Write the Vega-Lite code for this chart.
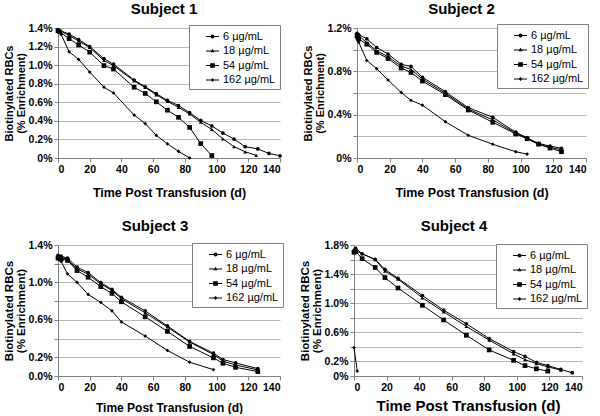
{
"$schema": "https://vega.github.io/schema/vega-lite/v6.json",
"padding": {"left": 3, "top": 2, "right": 3, "bottom": 0},
"background": "white",
"config": {
  "font": "Liberation Sans",
  "view": {"stroke": null},
  "axis": {"labelFont": "Liberation Sans", "labelFontWeight": "bold", "labelFontSize": 10.5, "labelColor": "black", "titleFont": "Liberation Sans", "titleFontWeight": "bold", "titleColor": "black", "domainColor": "#808080", "tickColor": "#808080", "gridColor": "#b8b8b8", "tickSize": 4, "labelPadding": 2, "labelOverlap": false},
  "legend": {"title": null, "orient": "none", "padding": 4, "strokeColor": "#808080", "fillColor": "white", "symbolSize": 170, "symbolFillColor": "black", "symbolStrokeColor": "black", "symbolStrokeWidth": 1, "symbolOpacity": 1, "labelFont": "Liberation Sans", "labelFontSize": 11, "labelColor": "black", "symbolOffset": 12, "labelOffset": 3, "rowPadding": 1.5},
  "title": {"font": "Liberation Sans", "fontSize": 15, "fontWeight": "bold", "color": "black", "anchor": "middle", "frame": "group", "offset": 6}
},
"data": {"values": [
{"subject":1,"conc":"6 µg/mL","day":0,"pct":1.38},{"subject":1,"conc":"6 µg/mL","day":7,"pct":1.335},{"subject":1,"conc":"6 µg/mL","day":13,"pct":1.275},{"subject":1,"conc":"6 µg/mL","day":20,"pct":1.2},{"subject":1,"conc":"6 µg/mL","day":29,"pct":1.07},{"subject":1,"conc":"6 µg/mL","day":35,"pct":1.01},{"subject":1,"conc":"6 µg/mL","day":48,"pct":0.84},{"subject":1,"conc":"6 µg/mL","day":55,"pct":0.767},{"subject":1,"conc":"6 µg/mL","day":62,"pct":0.693},{"subject":1,"conc":"6 µg/mL","day":69,"pct":0.62},{"subject":1,"conc":"6 µg/mL","day":76,"pct":0.565},{"subject":1,"conc":"6 µg/mL","day":83,"pct":0.488},{"subject":1,"conc":"6 µg/mL","day":90,"pct":0.404},{"subject":1,"conc":"6 µg/mL","day":97,"pct":0.345},{"subject":1,"conc":"6 µg/mL","day":104,"pct":0.268},{"subject":1,"conc":"6 µg/mL","day":111,"pct":0.204},{"subject":1,"conc":"6 µg/mL","day":118,"pct":0.122},{"subject":1,"conc":"6 µg/mL","day":126,"pct":0.098},{"subject":1,"conc":"6 µg/mL","day":133,"pct":0.049},{"subject":1,"conc":"6 µg/mL","day":140,"pct":0.024},
{"subject":1,"conc":"18 µg/mL","day":0,"pct":1.38},{"subject":1,"conc":"18 µg/mL","day":7,"pct":1.32},{"subject":1,"conc":"18 µg/mL","day":13,"pct":1.26},{"subject":1,"conc":"18 µg/mL","day":20,"pct":1.19},{"subject":1,"conc":"18 µg/mL","day":29,"pct":1.05},{"subject":1,"conc":"18 µg/mL","day":35,"pct":0.995},{"subject":1,"conc":"18 µg/mL","day":48,"pct":0.83},{"subject":1,"conc":"18 µg/mL","day":55,"pct":0.76},{"subject":1,"conc":"18 µg/mL","day":62,"pct":0.68},{"subject":1,"conc":"18 µg/mL","day":69,"pct":0.61},{"subject":1,"conc":"18 µg/mL","day":76,"pct":0.545},{"subject":1,"conc":"18 µg/mL","day":83,"pct":0.475},{"subject":1,"conc":"18 µg/mL","day":90,"pct":0.385},{"subject":1,"conc":"18 µg/mL","day":97,"pct":0.307},{"subject":1,"conc":"18 µg/mL","day":104,"pct":0.205},{"subject":1,"conc":"18 µg/mL","day":111,"pct":0.122},{"subject":1,"conc":"18 µg/mL","day":118,"pct":0.067},{"subject":1,"conc":"18 µg/mL","day":125,"pct":0.029},
{"subject":1,"conc":"54 µg/mL","day":0,"pct":1.37},{"subject":1,"conc":"54 µg/mL","day":1,"pct":1.36},{"subject":1,"conc":"54 µg/mL","day":7,"pct":1.285},{"subject":1,"conc":"54 µg/mL","day":13,"pct":1.217},{"subject":1,"conc":"54 µg/mL","day":20,"pct":1.14},{"subject":1,"conc":"54 µg/mL","day":29,"pct":0.995},{"subject":1,"conc":"54 µg/mL","day":35,"pct":0.958},{"subject":1,"conc":"54 µg/mL","day":48,"pct":0.762},{"subject":1,"conc":"54 µg/mL","day":55,"pct":0.695},{"subject":1,"conc":"54 µg/mL","day":62,"pct":0.605},{"subject":1,"conc":"54 µg/mL","day":69,"pct":0.515},{"subject":1,"conc":"54 µg/mL","day":76,"pct":0.438},{"subject":1,"conc":"54 µg/mL","day":83,"pct":0.329},{"subject":1,"conc":"54 µg/mL","day":90,"pct":0.155},{"subject":1,"conc":"54 µg/mL","day":97,"pct":0.026},
{"subject":1,"conc":"162 µg/mL","day":0,"pct":1.37},{"subject":1,"conc":"162 µg/mL","day":2,"pct":1.33},{"subject":1,"conc":"162 µg/mL","day":7,"pct":1.144},{"subject":1,"conc":"162 µg/mL","day":13,"pct":1.062},{"subject":1,"conc":"162 µg/mL","day":20,"pct":0.926},{"subject":1,"conc":"162 µg/mL","day":29,"pct":0.762},{"subject":1,"conc":"162 µg/mL","day":35,"pct":0.7},{"subject":1,"conc":"162 µg/mL","day":48,"pct":0.463},{"subject":1,"conc":"162 µg/mL","day":55,"pct":0.371},{"subject":1,"conc":"162 µg/mL","day":62,"pct":0.244},{"subject":1,"conc":"162 µg/mL","day":69,"pct":0.152},{"subject":1,"conc":"162 µg/mL","day":76,"pct":0.072},{"subject":1,"conc":"162 µg/mL","day":83,"pct":0.0},
{"subject":2,"conc":"6 µg/mL","day":0,"pct":1.15},{"subject":2,"conc":"6 µg/mL","day":1,"pct":1.14},{"subject":2,"conc":"6 µg/mL","day":6,"pct":1.1},{"subject":2,"conc":"6 µg/mL","day":12,"pct":1.02},{"subject":2,"conc":"6 µg/mL","day":19,"pct":0.96},{"subject":2,"conc":"6 µg/mL","day":27,"pct":0.865},{"subject":2,"conc":"6 µg/mL","day":33,"pct":0.845},{"subject":2,"conc":"6 µg/mL","day":40,"pct":0.745},{"subject":2,"conc":"6 µg/mL","day":54,"pct":0.612},{"subject":2,"conc":"6 µg/mL","day":68,"pct":0.465},{"subject":2,"conc":"6 µg/mL","day":83,"pct":0.376},{"subject":2,"conc":"6 µg/mL","day":97,"pct":0.238},{"subject":2,"conc":"6 µg/mL","day":104,"pct":0.186},{"subject":2,"conc":"6 µg/mL","day":111,"pct":0.135},{"subject":2,"conc":"6 µg/mL","day":118,"pct":0.11},{"subject":2,"conc":"6 µg/mL","day":125,"pct":0.09},
{"subject":2,"conc":"18 µg/mL","day":0,"pct":1.12},{"subject":2,"conc":"18 µg/mL","day":1,"pct":1.13},{"subject":2,"conc":"18 µg/mL","day":6,"pct":1.065},{"subject":2,"conc":"18 µg/mL","day":12,"pct":0.99},{"subject":2,"conc":"18 µg/mL","day":19,"pct":0.935},{"subject":2,"conc":"18 µg/mL","day":27,"pct":0.848},{"subject":2,"conc":"18 µg/mL","day":33,"pct":0.818},{"subject":2,"conc":"18 µg/mL","day":40,"pct":0.728},{"subject":2,"conc":"18 µg/mL","day":54,"pct":0.598},{"subject":2,"conc":"18 µg/mL","day":68,"pct":0.452},{"subject":2,"conc":"18 µg/mL","day":83,"pct":0.352},{"subject":2,"conc":"18 µg/mL","day":97,"pct":0.23},{"subject":2,"conc":"18 µg/mL","day":104,"pct":0.18},{"subject":2,"conc":"18 µg/mL","day":111,"pct":0.125},{"subject":2,"conc":"18 µg/mL","day":118,"pct":0.1},{"subject":2,"conc":"18 µg/mL","day":125,"pct":0.075},
{"subject":2,"conc":"54 µg/mL","day":0,"pct":1.13},{"subject":2,"conc":"54 µg/mL","day":1,"pct":1.1},{"subject":2,"conc":"54 µg/mL","day":6,"pct":1.05},{"subject":2,"conc":"54 µg/mL","day":12,"pct":0.975},{"subject":2,"conc":"54 µg/mL","day":19,"pct":0.918},{"subject":2,"conc":"54 µg/mL","day":27,"pct":0.83},{"subject":2,"conc":"54 µg/mL","day":33,"pct":0.79},{"subject":2,"conc":"54 µg/mL","day":40,"pct":0.71},{"subject":2,"conc":"54 µg/mL","day":54,"pct":0.585},{"subject":2,"conc":"54 µg/mL","day":68,"pct":0.443},{"subject":2,"conc":"54 µg/mL","day":83,"pct":0.33},{"subject":2,"conc":"54 µg/mL","day":97,"pct":0.222},{"subject":2,"conc":"54 µg/mL","day":104,"pct":0.178},{"subject":2,"conc":"54 µg/mL","day":111,"pct":0.128},{"subject":2,"conc":"54 µg/mL","day":118,"pct":0.092},{"subject":2,"conc":"54 µg/mL","day":125,"pct":0.058},
{"subject":2,"conc":"162 µg/mL","day":0,"pct":1.1},{"subject":2,"conc":"162 µg/mL","day":1,"pct":1.07},{"subject":2,"conc":"162 µg/mL","day":6,"pct":0.9},{"subject":2,"conc":"162 µg/mL","day":12,"pct":0.825},{"subject":2,"conc":"162 µg/mL","day":19,"pct":0.72},{"subject":2,"conc":"162 µg/mL","day":27,"pct":0.605},{"subject":2,"conc":"162 µg/mL","day":33,"pct":0.532},{"subject":2,"conc":"162 µg/mL","day":40,"pct":0.488},{"subject":2,"conc":"162 µg/mL","day":54,"pct":0.335},{"subject":2,"conc":"162 µg/mL","day":68,"pct":0.21},{"subject":2,"conc":"162 µg/mL","day":83,"pct":0.127},{"subject":2,"conc":"162 µg/mL","day":97,"pct":0.058},{"subject":2,"conc":"162 µg/mL","day":104,"pct":0.036},
{"subject":3,"conc":"6 µg/mL","day":0,"pct":1.29},{"subject":3,"conc":"6 µg/mL","day":2,"pct":1.28},{"subject":3,"conc":"6 µg/mL","day":6,"pct":1.26},{"subject":3,"conc":"6 µg/mL","day":12,"pct":1.163},{"subject":3,"conc":"6 µg/mL","day":19,"pct":1.106},{"subject":3,"conc":"6 µg/mL","day":27,"pct":0.998},{"subject":3,"conc":"6 µg/mL","day":34,"pct":0.926},{"subject":3,"conc":"6 µg/mL","day":40,"pct":0.84},{"subject":3,"conc":"6 µg/mL","day":55,"pct":0.696},{"subject":3,"conc":"6 µg/mL","day":69,"pct":0.535},{"subject":3,"conc":"6 µg/mL","day":83,"pct":0.37},{"subject":3,"conc":"6 µg/mL","day":98,"pct":0.244},{"subject":3,"conc":"6 µg/mL","day":104,"pct":0.176},{"subject":3,"conc":"6 µg/mL","day":112,"pct":0.14},{"subject":3,"conc":"6 µg/mL","day":126,"pct":0.079},
{"subject":3,"conc":"18 µg/mL","day":0,"pct":1.27},{"subject":3,"conc":"18 µg/mL","day":2,"pct":1.27},{"subject":3,"conc":"18 µg/mL","day":6,"pct":1.242},{"subject":3,"conc":"18 µg/mL","day":12,"pct":1.145},{"subject":3,"conc":"18 µg/mL","day":19,"pct":1.088},{"subject":3,"conc":"18 µg/mL","day":27,"pct":0.984},{"subject":3,"conc":"18 µg/mL","day":34,"pct":0.915},{"subject":3,"conc":"18 µg/mL","day":40,"pct":0.826},{"subject":3,"conc":"18 µg/mL","day":55,"pct":0.675},{"subject":3,"conc":"18 µg/mL","day":69,"pct":0.524},{"subject":3,"conc":"18 µg/mL","day":83,"pct":0.363},{"subject":3,"conc":"18 µg/mL","day":98,"pct":0.23},{"subject":3,"conc":"18 µg/mL","day":104,"pct":0.158},{"subject":3,"conc":"18 µg/mL","day":112,"pct":0.118},{"subject":3,"conc":"18 µg/mL","day":126,"pct":0.065},
{"subject":3,"conc":"54 µg/mL","day":0,"pct":1.26},{"subject":3,"conc":"54 µg/mL","day":2,"pct":1.25},{"subject":3,"conc":"54 µg/mL","day":6,"pct":1.235},{"subject":3,"conc":"54 µg/mL","day":12,"pct":1.127},{"subject":3,"conc":"54 µg/mL","day":19,"pct":1.055},{"subject":3,"conc":"54 µg/mL","day":27,"pct":0.955},{"subject":3,"conc":"54 µg/mL","day":34,"pct":0.883},{"subject":3,"conc":"54 µg/mL","day":40,"pct":0.793},{"subject":3,"conc":"54 µg/mL","day":55,"pct":0.632},{"subject":3,"conc":"54 µg/mL","day":69,"pct":0.477},{"subject":3,"conc":"54 µg/mL","day":83,"pct":0.316},{"subject":3,"conc":"54 µg/mL","day":98,"pct":0.194},{"subject":3,"conc":"54 µg/mL","day":104,"pct":0.136},{"subject":3,"conc":"54 µg/mL","day":112,"pct":0.093},{"subject":3,"conc":"54 µg/mL","day":126,"pct":0.047},
{"subject":3,"conc":"162 µg/mL","day":0,"pct":1.25},{"subject":3,"conc":"162 µg/mL","day":2,"pct":1.224},{"subject":3,"conc":"162 µg/mL","day":6,"pct":1.091},{"subject":3,"conc":"162 µg/mL","day":12,"pct":1.001},{"subject":3,"conc":"162 µg/mL","day":19,"pct":0.872},{"subject":3,"conc":"162 µg/mL","day":27,"pct":0.786},{"subject":3,"conc":"162 µg/mL","day":34,"pct":0.696},{"subject":3,"conc":"162 µg/mL","day":40,"pct":0.578},{"subject":3,"conc":"162 µg/mL","day":55,"pct":0.427},{"subject":3,"conc":"162 µg/mL","day":69,"pct":0.273},{"subject":3,"conc":"162 µg/mL","day":83,"pct":0.147},{"subject":3,"conc":"162 µg/mL","day":98,"pct":0.068},
{"subject":4,"conc":"6 µg/mL","day":0,"pct":1.72},{"subject":4,"conc":"6 µg/mL","day":1,"pct":1.755},{"subject":4,"conc":"6 µg/mL","day":5,"pct":1.679},{"subject":4,"conc":"6 µg/mL","day":13,"pct":1.603},{"subject":4,"conc":"6 µg/mL","day":19,"pct":1.464},{"subject":4,"conc":"6 µg/mL","day":27,"pct":1.343},{"subject":4,"conc":"6 µg/mL","day":42,"pct":1.106},{"subject":4,"conc":"6 µg/mL","day":55,"pct":0.905},{"subject":4,"conc":"6 µg/mL","day":69,"pct":0.717},{"subject":4,"conc":"6 µg/mL","day":83,"pct":0.515},{"subject":4,"conc":"6 µg/mL","day":98,"pct":0.336},{"subject":4,"conc":"6 µg/mL","day":105,"pct":0.269},{"subject":4,"conc":"6 µg/mL","day":112,"pct":0.188},{"subject":4,"conc":"6 µg/mL","day":119,"pct":0.143},{"subject":4,"conc":"6 µg/mL","day":127,"pct":0.09},{"subject":4,"conc":"6 µg/mL","day":134,"pct":0.045},
{"subject":4,"conc":"18 µg/mL","day":0,"pct":1.74},{"subject":4,"conc":"18 µg/mL","day":1,"pct":1.72},{"subject":4,"conc":"18 µg/mL","day":5,"pct":1.68},{"subject":4,"conc":"18 µg/mL","day":13,"pct":1.6},{"subject":4,"conc":"18 µg/mL","day":19,"pct":1.442},{"subject":4,"conc":"18 µg/mL","day":27,"pct":1.33},{"subject":4,"conc":"18 µg/mL","day":42,"pct":1.075},{"subject":4,"conc":"18 µg/mL","day":55,"pct":0.882},{"subject":4,"conc":"18 µg/mL","day":69,"pct":0.681},{"subject":4,"conc":"18 µg/mL","day":83,"pct":0.493},{"subject":4,"conc":"18 µg/mL","day":98,"pct":0.305},{"subject":4,"conc":"18 µg/mL","day":105,"pct":0.224},{"subject":4,"conc":"18 µg/mL","day":112,"pct":0.17},{"subject":4,"conc":"18 µg/mL","day":119,"pct":0.125},{"subject":4,"conc":"18 µg/mL","day":127,"pct":0.081},
{"subject":4,"conc":"54 µg/mL","day":0,"pct":1.7},{"subject":4,"conc":"54 µg/mL","day":1,"pct":1.711},{"subject":4,"conc":"54 µg/mL","day":5,"pct":1.612},{"subject":4,"conc":"54 µg/mL","day":13,"pct":1.491},{"subject":4,"conc":"54 µg/mL","day":19,"pct":1.352},{"subject":4,"conc":"54 µg/mL","day":27,"pct":1.209},{"subject":4,"conc":"54 µg/mL","day":42,"pct":0.972},{"subject":4,"conc":"54 µg/mL","day":55,"pct":0.77},{"subject":4,"conc":"54 µg/mL","day":69,"pct":0.56},{"subject":4,"conc":"54 µg/mL","day":83,"pct":0.358},{"subject":4,"conc":"54 µg/mL","day":98,"pct":0.215},{"subject":4,"conc":"54 µg/mL","day":105,"pct":0.143},{"subject":4,"conc":"54 µg/mL","day":112,"pct":0.099},{"subject":4,"conc":"54 µg/mL","day":119,"pct":0.067},
{"subject":4,"conc":"162 µg/mL","day":0,"pct":0.39},{"subject":4,"conc":"162 µg/mL","day":2,"pct":0.067}
]},
"resolve": {"scale": {"shape": "independent", "size": "independent"}, "legend": {"shape": "independent"}},
"vconcat": [
 {"resolve": {"scale": {"shape": "independent", "size": "independent"}, "legend": {"shape": "independent"}},
  "hconcat": [
  {"width": 222, "height": 130,
   "title": {"text": "Subject 1", "dx": -5},
   "transform": [{"filter": "datum.subject == 1"}],
   "encoding": {
     "x": {"field": "day", "type": "quantitative", "scale": {"domain": [0, 140], "nice": false}, "axis": {"title": "Time Post Transfusion (d)", "titleFontSize": 12.5, "values": [0,20,40,60,80,100,120,140], "grid": false, "titlePadding": 12}},
     "y": {"field": "pct", "type": "quantitative", "scale": {"domain": [0, 1.4], "nice": false}, "axis": {"title": ["Biotinylated RBCs", "(% Enrichment)"], "titleFontSize": 11, "titleLineHeight": 12, "titlePadding": 2, "values": [0,0.2,0.4,0.6,0.8,1.0,1.2,1.4], "grid": true, "labelExpr": "datum.value == 0 ? '0%' : format(datum.value, '.1f') + '%'"}}
   },
   "layer": [
    {"mark": {"type": "line", "color": "black", "strokeWidth": 1}, "encoding": {"detail": {"field": "conc"}}},
    {"mark": {"type": "point", "filled": true, "color": "black", "opacity": 1}, "encoding": {"shape": {"field": "conc", "scale": {"domain": ["6 µg/mL","18 µg/mL","54 µg/mL","162 µg/mL"], "range": ["circle","triangle-up","square","diamond"]}, "legend": null}, "size": {"condition": {"test": "indexof(datum.conc, '54') == 0", "value": 22}, "value": 14}}},
    {"mark": {"type": "point", "filled": true, "color": "black", "opacity": 0, "size": 170}, "encoding": {"shape": {"field": "conc", "scale": {"domain": ["6 µg/mL","18 µg/mL","54 µg/mL","162 µg/mL"], "range": ["M-1,-0.08L1,-0.08L1,0.08L-1,0.08ZM0.3,0A0.3,0.3,0,1,1,-0.3,0A0.3,0.3,0,1,1,0.3,0Z", "M-1,-0.08L1,-0.08L1,0.08L-1,0.08ZM0,-0.35L0.32,0.2L-0.32,0.2Z", "M-1,-0.08L1,-0.08L1,0.08L-1,0.08ZM-0.36,-0.36L0.36,-0.36L0.36,0.36L-0.36,0.36Z", "M-1,-0.08L1,-0.08L1,0.08L-1,0.08ZM0,-0.3L0.3,0L0,0.3L-0.3,0Z"]}, "legend": {"legendX": 131, "legendY": -3, "encode": {"symbols": {"update": {"fill": {"value": "black"}, "opacity": {"value": 1}}}}}}}}
   ],
   "resolve": {"scale": {"shape": "independent"}, "legend": {"shape": "independent"}}
  },
  {"width": 229, "height": 130,
   "title": {"text": "Subject 2", "dx": -10},
   "transform": [{"filter": "datum.subject == 2"}],
   "encoding": {
     "x": {"field": "day", "type": "quantitative", "scale": {"domain": [0, 140], "nice": false}, "axis": {"title": "Time Post Transfusion (d)", "titleFontSize": 12.5, "values": [0,20,40,60,80,100,120,140], "grid": false, "titlePadding": 12}},
     "y": {"field": "pct", "type": "quantitative", "scale": {"domain": [0, 1.2], "nice": false}, "axis": {"title": ["Biotinylated RBCs", "(% Enrichment)"], "titleFontSize": 11, "titleLineHeight": 12, "titlePadding": 2, "values": [0,0.2,0.4,0.6,0.8,1.0,1.2], "grid": true, "labelExpr": "datum.value == 0 ? '0%' : (round(datum.value*10) % 4 == 0 ? format(datum.value, '.1f') + '%' : '')"}}
   },
   "layer": [
    {"mark": {"type": "line", "color": "black", "strokeWidth": 1}, "encoding": {"detail": {"field": "conc"}}},
    {"mark": {"type": "point", "filled": true, "color": "black", "opacity": 1}, "encoding": {"shape": {"field": "conc", "scale": {"domain": ["6 µg/mL","18 µg/mL","54 µg/mL","162 µg/mL"], "range": ["circle","triangle-up","square","diamond"]}, "legend": null}, "size": {"condition": {"test": "indexof(datum.conc, '54') == 0", "value": 22}, "value": 14}}},
    {"mark": {"type": "point", "filled": true, "color": "black", "opacity": 0, "size": 170}, "encoding": {"shape": {"field": "conc", "scale": {"domain": ["6 µg/mL","18 µg/mL","54 µg/mL","162 µg/mL"], "range": ["M-1,-0.08L1,-0.08L1,0.08L-1,0.08ZM0.3,0A0.3,0.3,0,1,1,-0.3,0A0.3,0.3,0,1,1,0.3,0Z", "M-1,-0.08L1,-0.08L1,0.08L-1,0.08ZM0,-0.35L0.32,0.2L-0.32,0.2Z", "M-1,-0.08L1,-0.08L1,0.08L-1,0.08ZM-0.36,-0.36L0.36,-0.36L0.36,0.36L-0.36,0.36Z", "M-1,-0.08L1,-0.08L1,0.08L-1,0.08ZM0,-0.3L0.3,0L0,0.3L-0.3,0Z"]}, "legend": {"legendX": 140, "legendY": -4, "encode": {"symbols": {"update": {"fill": {"value": "black"}, "opacity": {"value": 1}}}}}}}}
   ],
   "resolve": {"scale": {"shape": "independent"}, "legend": {"shape": "independent"}}
  }
 ], "spacing": 15},
 {"resolve": {"scale": {"shape": "independent", "size": "independent"}, "legend": {"shape": "independent"}},
  "hconcat": [
  {"width": 222, "height": 131,
   "title": {"text": "Subject 3", "dx": -14},
   "transform": [{"filter": "datum.subject == 3"}],
   "encoding": {
     "x": {"field": "day", "type": "quantitative", "scale": {"domain": [0, 140], "nice": false}, "axis": {"title": "Time Post Transfusion (d)", "titleFontSize": 12, "values": [0,20,40,60,80,100,120,140], "grid": false, "titlePadding": 10}},
     "y": {"field": "pct", "type": "quantitative", "scale": {"domain": [0, 1.4], "nice": false}, "axis": {"title": ["Biotinylated RBCs", "(% Enrichment)"], "titleFontSize": 11.5, "titleLineHeight": 12, "titlePadding": 2, "values": [0,0.2,0.4,0.6,0.8,1.0,1.2,1.4], "grid": true, "labelExpr": "(datum.value == 0 || round(datum.value*10) % 4 == 2) ? format(datum.value, '.1f') + '%' : ''"}}
   },
   "layer": [
    {"mark": {"type": "line", "color": "black", "strokeWidth": 1}, "encoding": {"detail": {"field": "conc"}}},
    {"mark": {"type": "point", "filled": true, "color": "black", "opacity": 1}, "encoding": {"shape": {"field": "conc", "scale": {"domain": ["6 µg/mL","18 µg/mL","54 µg/mL","162 µg/mL"], "range": ["circle","triangle-up","square","diamond"]}, "legend": null}, "size": {"condition": {"test": "indexof(datum.conc, '54') == 0", "value": 22}, "value": 14}}},
    {"mark": {"type": "point", "filled": true, "color": "black", "opacity": 0, "size": 170}, "encoding": {"shape": {"field": "conc", "scale": {"domain": ["6 µg/mL","18 µg/mL","54 µg/mL","162 µg/mL"], "range": ["M-1,-0.08L1,-0.08L1,0.08L-1,0.08ZM0.3,0A0.3,0.3,0,1,1,-0.3,0A0.3,0.3,0,1,1,0.3,0Z", "M-1,-0.08L1,-0.08L1,0.08L-1,0.08ZM0,-0.35L0.32,0.2L-0.32,0.2Z", "M-1,-0.08L1,-0.08L1,0.08L-1,0.08ZM-0.36,-0.36L0.36,-0.36L0.36,0.36L-0.36,0.36Z", "M-1,-0.08L1,-0.08L1,0.08L-1,0.08ZM0,-0.3L0.3,0L0,0.3L-0.3,0Z"]}, "legend": {"legendX": 134, "legendY": -2, "encode": {"symbols": {"update": {"fill": {"value": "black"}, "opacity": {"value": 1}}}}}}}}
   ],
   "resolve": {"scale": {"shape": "independent"}, "legend": {"shape": "independent"}}
  },
  {"width": 228, "height": 131,
   "title": {"text": "Subject 4", "dx": -14},
   "transform": [{"filter": "datum.subject == 4"}],
   "encoding": {
     "x": {"field": "day", "type": "quantitative", "scale": {"domain": [0, 140], "nice": false}, "axis": {"title": "Time Post Transfusion (d)", "titleFontSize": 15, "values": [0,20,40,60,80,100,120,140], "grid": false, "titlePadding": 6}},
     "y": {"field": "pct", "type": "quantitative", "scale": {"domain": [0, 1.8], "nice": false}, "axis": {"title": ["Biotinylated RBCs", "(% Enrichment)"], "titleFontSize": 11.5, "titleLineHeight": 12, "titlePadding": 2, "values": [0,0.2,0.4,0.6,0.8,1.0,1.2,1.4,1.6,1.8], "grid": true, "labelExpr": "datum.value == 0 ? '0%' : (round(datum.value*10) % 4 == 2 ? format(datum.value, '.1f') + '%' : '')"}}
   },
   "layer": [
    {"mark": {"type": "line", "color": "black", "strokeWidth": 1}, "encoding": {"detail": {"field": "conc"}}},
    {"mark": {"type": "point", "filled": true, "color": "black", "opacity": 1}, "encoding": {"shape": {"field": "conc", "scale": {"domain": ["6 µg/mL","18 µg/mL","54 µg/mL","162 µg/mL"], "range": ["circle","triangle-up","square","diamond"]}, "legend": null}, "size": {"condition": {"test": "indexof(datum.conc, '54') == 0", "value": 22}, "value": 14}}},
    {"mark": {"type": "point", "filled": true, "color": "black", "opacity": 0, "size": 170}, "encoding": {"shape": {"field": "conc", "scale": {"domain": ["6 µg/mL","18 µg/mL","54 µg/mL","162 µg/mL"], "range": ["M-1,-0.08L1,-0.08L1,0.08L-1,0.08ZM0.3,0A0.3,0.3,0,1,1,-0.3,0A0.3,0.3,0,1,1,0.3,0Z", "M-1,-0.08L1,-0.08L1,0.08L-1,0.08ZM0,-0.35L0.32,0.2L-0.32,0.2Z", "M-1,-0.08L1,-0.08L1,0.08L-1,0.08ZM-0.36,-0.36L0.36,-0.36L0.36,0.36L-0.36,0.36Z", "M-1,-0.08L1,-0.08L1,0.08L-1,0.08ZM0,-0.3L0.3,0L0,0.3L-0.3,0Z"]}, "legend": {"legendX": 142, "legendY": -1, "encode": {"symbols": {"update": {"fill": {"value": "black"}, "opacity": {"value": 1}}}}}}}}
   ],
   "resolve": {"scale": {"shape": "independent"}, "legend": {"shape": "independent"}}
  }
 ], "spacing": 15}
],
"spacing": 20
}
